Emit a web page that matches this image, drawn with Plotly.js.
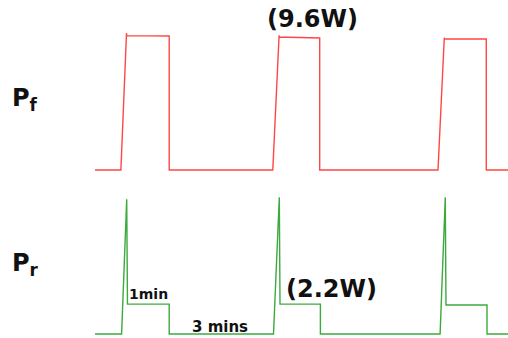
<!DOCTYPE html>
<html>
<head>
<meta charset="utf-8">
<script src="https://cdn.plot.ly/plotly-3.0.1.min.js"></script>
<style>html,body{margin:0;padding:0;background:#fff;}#chart{width:508px;height:338px;}</style>
</head>
<body>
<div id="chart"></div>
<script>
// Time in seconds, power in watts
const timeF = [0, 37, 45, 45.4, 106, 106, 254, 263, 263.4, 321, 321, 490, 499, 499.4, 559, 559, 590];
const powerF = [0, 0, 9.78, 9.6, 9.58, 0, 0, 9.62, 9.5, 9.43, 0, 0, 9.45, 9.36, 9.36, 0, 0];
const timeR = [0, 38, 45.3, 46.4, 106, 106, 255, 263.3, 264.3, 322, 322, 493, 500.4, 501.4, 560, 560, 590];
const powerR = [0, 0, 9.9, 2.2, 2.2, 0, 0, 10.05, 2.2, 2.2, 0, 0, 10.05, 2.13, 2.13, 0, 0];

const FONT = 'DejaVu Sans, Arial, sans-serif';

const traces = [
  {x: timeF, y: powerF, mode: 'lines', line: {color: 'rgb(255,70,70)', width: 1.4}, yaxis: 'y', hoverinfo: 'skip'},
  {x: timeR, y: powerR, mode: 'lines', line: {color: 'rgb(60,170,60)', width: 1.4}, yaxis: 'y2', hoverinfo: 'skip'}
];

function ann(text, px, py, size, xanchor) {
  return {text: text, xref: 'paper', yref: 'paper', x: px / 508, y: 1 - py / 338,
    xanchor: xanchor || 'center', yanchor: 'middle', showarrow: false,
    font: {family: FONT, size: size, color: '#111'}};
}

const layout = {
  width: 508, height: 338,
  margin: {l: 0, r: 0, t: 0, b: 0},
  paper_bgcolor: '#fff', plot_bgcolor: '#fff',
  showlegend: false,
  xaxis: {domain: [95 / 508, 1], range: [0, 590], visible: false},
  yaxis: {domain: [0, 1], range: [-12.01, 12.15], visible: false},
  yaxis2: {domain: [0, 1], range: [-0.294, 24.56], overlaying: 'y', visible: false},
  annotations: [
    ann('<b>(9.6W)</b>', 312, 19, 24),
    ann('<b>(2.2W)</b>', 331, 289, 24),
    ann('<b>1min</b>', 148, 294, 14),
    ann('<b>3 mins</b>', 220, 327, 15),
    ann('<b>P<sub>f</sub></b>', 10, 99, 24, 'left'),
    ann('<b>P<sub>r</sub></b>', 10, 264, 24, 'left')
  ]
};

Plotly.newPlot('chart', traces, layout, {displayModeBar: false, staticPlot: true});
</script>
</body>
</html>
